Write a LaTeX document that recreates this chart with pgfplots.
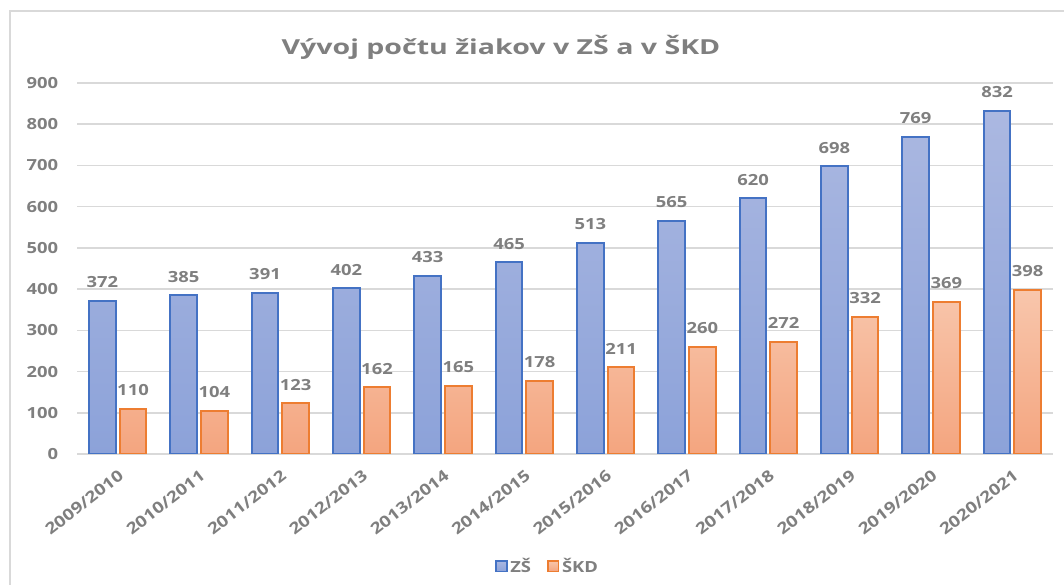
\documentclass[border=0pt]{standalone}
\usepackage{pgfplots}
\pgfplotsset{compat=1.18}
\usepackage{fontspec}
\setmainfont{Open Sans}[FakeStretch=1.2]
\definecolor{txt}{HTML}{7F7F7F}
\definecolor{grd}{HTML}{D9D9D9}
\definecolor{bblue}{HTML}{4472C4}
\definecolor{btop}{HTML}{ABB8E1}
\definecolor{bbot}{HTML}{8CA2D9}
\definecolor{oor}{HTML}{ED7D31}
\definecolor{otop}{HTML}{F8C6AC}
\definecolor{obot}{HTML}{F4A57F}
\begin{document}
\begin{tikzpicture}
\path[use as bounding box] (0,0) rectangle (798pt,438.75pt);
\draw[grd, line width=1.5pt] (7.5pt,0) -- (7.5pt,430.5pt) -- (798pt,430.5pt);
\node[txt, xscale=1.15, font=\fontsize{15.5}{18}\selectfont\bfseries] at (375.75pt,403.5pt) {Vývoj počtu žiakov v ZŠ a v ŠKD};
\begin{axis}[
  at={(57.75pt,98.25pt)}, anchor=south west,
  scale only axis, width=732pt, height=278.25pt,
  xmin=-0.5, xmax=11.5, ymin=0, ymax=900,
  axis line style={draw=none},
  ytick={0,100,...,900},
  xtick={0,...,11},
  xticklabels={2009/2010,2010/2011,2011/2012,2012/2013,2013/2014,2014/2015,2015/2016,2016/2017,2017/2018,2018/2019,2019/2020,2020/2021},
  ymajorgrids, grid style={grd, line width=1.1pt},
  major tick length=0pt,
  /pgf/number format/assume math mode=true,
  tick label style={txt, font=\fontsize{11.5}{14}\selectfont\bfseries},
  yticklabel style={anchor=east, inner sep=0pt, xshift=-14pt},
  xticklabel style={font=\fontsize{11.8}{14}\selectfont\bfseries, xshift=0pt, yshift=-11pt, rotate=38, anchor=north east, inner sep=0pt},
  ybar=3pt, bar width=20pt,
  nodes near coords,
  every node near coord/.append style={txt, font=\fontsize{11.5}{14}\selectfont\bfseries, anchor=south, inner sep=0pt, yshift=9pt},
  legend columns=2,
  legend style={at={(0.4826,-0.302)}, anchor=center, draw=none, fill=none,
    font=\fontsize{11.5}{14}\selectfont\bfseries, text=txt,
    /tikz/every even column/.append style={column sep=10pt}},
  legend image code/.code={\draw[#1, line width=1.2pt] (0pt,-4pt) rectangle (8pt,4pt);},
]
\addplot[draw=bblue, line width=1.5pt, top color=btop, bottom color=bbot] coordinates {
(0,372) (1,385) (2,391) (3,402) (4,433) (5,465) (6,513) (7,565) (8,620) (9,698) (10,769) (11,832)};
\addlegendentry{ZŠ}
\addplot[draw=oor, line width=1.5pt, top color=otop, bottom color=obot] coordinates {
(0,110) (1,104) (2,123) (3,162) (4,165) (5,178) (6,211) (7,260) (8,272) (9,332) (10,369) (11,398)};
\addlegendentry{ŠKD}
\end{axis}
\end{tikzpicture}
\end{document}
